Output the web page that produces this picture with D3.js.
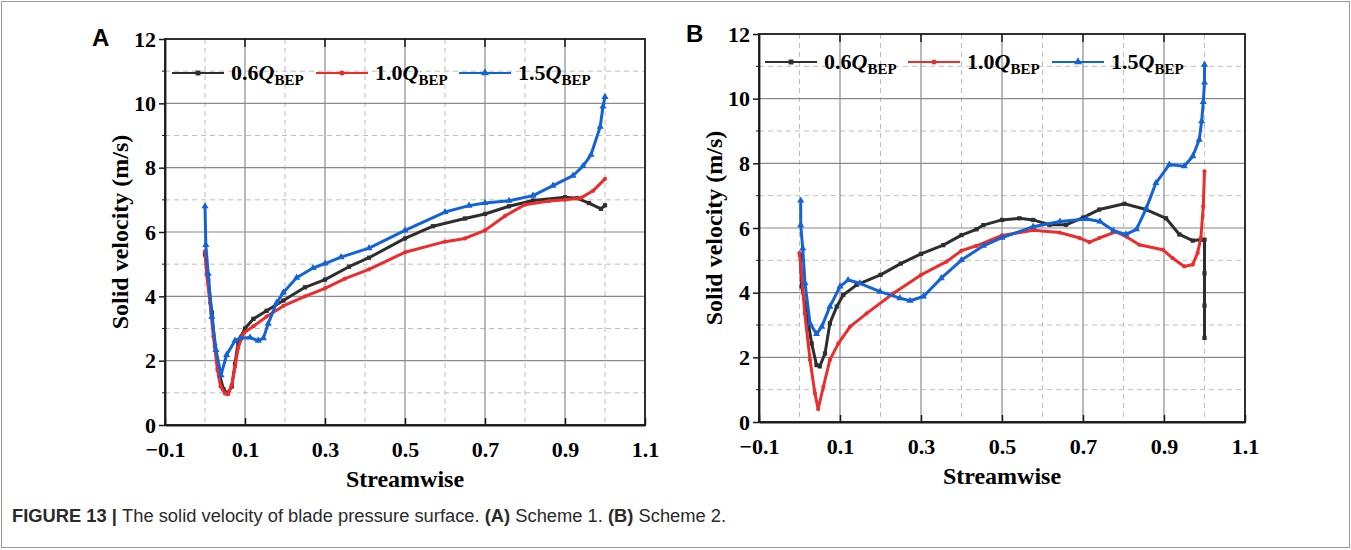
<!DOCTYPE html>
<html>
<head>
<meta charset="utf-8">
<script src="https://cdn.jsdelivr.net/npm/d3@7"></script>
<style>
  body { margin: 0; background: #fff; }
</style>
</head>
<body>
<script>
// tick values
const xTicks = [-0.1, 0.1, 0.3, 0.5, 0.7, 0.9, 1.1];
const xMinor = [0, 0.2, 0.4, 0.6, 0.8, 1.0];
const yTicks = [0, 2, 4, 6, 8, 10, 12];
const yMinor = [1, 3, 5, 7, 9, 11];
const flowLabels = ["0.6", "1.0", "1.5"];

// Scheme 1 (panel A) — [streamwise, solid velocity]
const schemeA_q06 = [[0,5.3],[0.008,4.5],[0.017,3.5],[0.025,2.45],[0.0375,1.5],[0.046,1.12],[0.056,0.98],[0.067,1.2],[0.075,1.9],[0.083,2.6],[0.1,3.0],[0.121,3.3],[0.154,3.55],[0.196,3.87],[0.25,4.28],[0.3,4.52],[0.36,4.92],[0.41,5.2],[0.5,5.8],[0.57,6.18],[0.65,6.42],[0.7,6.56],[0.76,6.8],[0.82,6.98],[0.9,7.08],[0.93,7.05],[0.96,6.9],[0.99,6.72],[1.0,6.83]];
const schemeA_q10 = [[0,5.4],[0.004,4.7],[0.0125,3.8],[0.021,2.75],[0.031,1.72],[0.039,1.2],[0.05,0.98],[0.058,0.96],[0.067,1.24],[0.075,1.8],[0.083,2.4],[0.096,2.85],[0.121,3.07],[0.154,3.37],[0.196,3.7],[0.25,4.0],[0.3,4.25],[0.35,4.55],[0.41,4.84],[0.5,5.37],[0.6,5.7],[0.65,5.8],[0.7,6.05],[0.75,6.5],[0.8,6.85],[0.86,6.96],[0.9,7.0],[0.94,7.06],[0.97,7.28],[1.0,7.65]];
const schemeA_q15 = [[0,6.8],[0.002,5.6],[0.008,4.7],[0.017,3.37],[0.0275,2.33],[0.04,1.55],[0.054,2.18],[0.075,2.62],[0.0875,2.7],[0.1125,2.72],[0.133,2.62],[0.146,2.7],[0.158,3.15],[0.179,3.8],[0.196,4.12],[0.229,4.58],[0.27,4.88],[0.3,5.02],[0.34,5.22],[0.41,5.5],[0.5,6.05],[0.6,6.62],[0.66,6.82],[0.7,6.9],[0.76,6.97],[0.82,7.13],[0.87,7.44],[0.92,7.75],[0.945,8.05],[0.965,8.4],[0.988,9.27],[0.995,9.9],[1.0,10.2]];

// Scheme 2 (panel B)
const schemeB_q06 = [[0.002,5.17],[0.005,4.2],[0.018,3.36],[0.03,2.43],[0.042,1.76],[0.05,1.72],[0.063,2.12],[0.075,3.05],[0.092,3.57],[0.108,3.93],[0.141,4.24],[0.2,4.55],[0.25,4.9],[0.3,5.2],[0.355,5.47],[0.4,5.78],[0.437,5.96],[0.454,6.09],[0.5,6.25],[0.543,6.3],[0.577,6.25],[0.617,6.1],[0.658,6.1],[0.7,6.32],[0.74,6.57],[0.802,6.75],[0.856,6.57],[0.905,6.3],[0.938,5.8],[0.971,5.61],[0.991,5.64],[1.0,5.64],[1.0,4.6],[1.0,3.6],[1.0,2.6]];
const schemeB_q10 = [[0.0,5.22],[0.005,4.6],[0.013,3.36],[0.026,1.92],[0.038,0.89],[0.046,0.4],[0.059,1.09],[0.075,1.92],[0.096,2.43],[0.125,2.95],[0.166,3.36],[0.232,3.98],[0.3,4.55],[0.363,4.96],[0.4,5.3],[0.437,5.45],[0.5,5.77],[0.577,5.93],[0.642,5.86],[0.692,5.69],[0.716,5.56],[0.74,5.69],[0.781,5.88],[0.806,5.74],[0.839,5.48],[0.897,5.33],[0.921,5.07],[0.95,4.81],[0.971,4.87],[0.983,5.23],[0.991,5.69],[0.997,6.67],[1.0,7.75]];
const schemeB_q15 = [[0.003,6.85],[0.003,6.09],[0.008,5.37],[0.0136,4.29],[0.026,3.05],[0.042,2.72],[0.055,2.95],[0.075,3.57],[0.1,4.19],[0.12,4.39],[0.149,4.29],[0.199,4.03],[0.248,3.83],[0.273,3.75],[0.306,3.88],[0.35,4.45],[0.4,5.01],[0.454,5.45],[0.5,5.7],[0.577,6.04],[0.643,6.2],[0.709,6.28],[0.742,6.2],[0.775,5.92],[0.806,5.8],[0.832,5.96],[0.856,6.6],[0.88,7.39],[0.913,7.96],[0.95,7.91],[0.971,8.22],[0.987,8.73],[0.993,9.3],[0.997,9.9],[1.0,10.5],[1.0,11.05]];

const colors = ["#2e2e2e", "#ec2d2d", "#1463d6"];
const shapes = [d3.symbolSquare, d3.symbolCircle, d3.symbolTriangle];
const shapeSize = [18, 14, 22];
const serif = "'Liberation Serif', 'Times New Roman', serif";
const sans = "'Liberation Sans', Arial, sans-serif";

const svg = d3.select("body").append("svg")
  .attr("width", 1351)
  .attr("height", 550);

// outer figure frame
svg.append("rect")
  .attr("x", 1.5).attr("y", 1.5)
  .attr("width", 1348).attr("height", 546)
  .attr("fill", "none")
  .attr("stroke", "#9a9a9a")
  .attr("stroke-width", 1);

function drawPanel(p) {
  const x = d3.scaleLinear().domain([-0.1, 1.1]).range([p.left, p.right]);
  const y = d3.scaleLinear().domain([0, 12]).range([p.bottom, p.top]);
  const g = svg.append("g");

  // dashed minor grid
  g.selectAll(".vmin").data(xMinor).enter().append("line")
    .attr("x1", d => x(d)).attr("x2", d => x(d))
    .attr("y1", p.top).attr("y2", p.bottom)
    .attr("stroke", "#c4bcbc").attr("stroke-dasharray", "5,4");
  g.selectAll(".hmin").data(yMinor).enter().append("line")
    .attr("x1", p.left).attr("x2", p.right)
    .attr("y1", d => y(d)).attr("y2", d => y(d))
    .attr("stroke", "#c4bcbc").attr("stroke-dasharray", "5,4");

  // solid major grid
  g.selectAll(".vmaj").data(xTicks.slice(1, -1)).enter().append("line")
    .attr("x1", d => x(d)).attr("x2", d => x(d))
    .attr("y1", p.top).attr("y2", p.bottom)
    .attr("stroke", "#8a8a8a").attr("stroke-width", 1.2);
  g.selectAll(".hmaj").data(yTicks.slice(1, -1)).enter().append("line")
    .attr("x1", p.left).attr("x2", p.right)
    .attr("y1", d => y(d)).attr("y2", d => y(d))
    .attr("stroke", "#8a8a8a").attr("stroke-width", 1.2);

  // frame
  g.append("rect")
    .attr("x", p.left).attr("y", p.top)
    .attr("width", p.right - p.left).attr("height", p.bottom - p.top)
    .attr("fill", "none").attr("stroke", "#1a1a1a").attr("stroke-width", 1.8);

  // top ticks (inward)
  g.selectAll(".tt").data(xTicks.slice(1, -1)).enter().append("line")
    .attr("x1", d => x(d)).attr("x2", d => x(d))
    .attr("y1", p.top).attr("y2", p.top + 8)
    .attr("stroke", "#1a1a1a").attr("stroke-width", 1.5);

  // axes
  const xAxis = d3.axisBottom(x).tickValues(xTicks).tickSizeInner(-7).tickSizeOuter(0)
    .tickFormat(d => d3.format(".1f")(d));
  const gx = g.append("g").attr("transform", `translate(0,${p.bottom})`).call(xAxis);
  gx.select(".domain").attr("stroke", "#1a1a1a").attr("stroke-width", 1.8);
  gx.selectAll(".tick line").attr("stroke", "#1a1a1a").attr("stroke-width", 1.5);
  gx.selectAll(".tick text")
    .attr("y", 16)
    .attr("font-family", serif).attr("font-weight", "bold").attr("font-size", 22)
    .attr("fill", "#000");

  const yAxis = d3.axisLeft(y).tickValues(yTicks).tickSizeInner(6).tickSizeOuter(0).tickPadding(3);
  const gy = g.append("g").attr("transform", `translate(${p.left},0)`).call(yAxis);
  gy.select(".domain").attr("stroke", "#1a1a1a").attr("stroke-width", 1.8);
  gy.selectAll(".tick line").attr("stroke", "#1a1a1a").attr("stroke-width", 1.5);
  gy.selectAll(".tick text")
    .attr("font-family", serif).attr("font-weight", "bold").attr("font-size", 22)
    .attr("fill", "#000");

  // minor ticks on left axis
  g.selectAll(".ymt").data(yMinor).enter().append("line")
    .attr("x1", p.left - 3).attr("x2", p.left)
    .attr("y1", d => y(d)).attr("y2", d => y(d))
    .attr("stroke", "#1a1a1a");

  // axis titles
  g.append("text")
    .attr("x", (p.left + p.right) / 2).attr("y", p.bottom + 62)
    .attr("text-anchor", "middle")
    .attr("font-family", serif).attr("font-weight", "bold").attr("font-size", 24)
    .text("Streamwise");
  g.append("text")
    .attr("transform", `translate(${p.left - 37},${(p.top + p.bottom) / 2}) rotate(-90)`)
    .attr("text-anchor", "middle")
    .attr("font-family", serif).attr("font-weight", "bold").attr("font-size", 24)
    .text("Solid velocity (m/s)");

  // panel letter
  g.append("text")
    .attr("x", p.letterX).attr("y", p.letterY)
    .attr("font-family", sans).attr("font-weight", "bold").attr("font-size", 24)
    .text(p.letter);

  // curves
  const line = d3.line().x(d => x(d[0])).y(d => y(d[1]));
  p.series.forEach((s, i) => {
    g.append("path")
      .datum(s)
      .attr("fill", "none")
      .attr("stroke", colors[i])
      .attr("stroke-width", 3)
      .attr("stroke-linejoin", "round")
      .attr("d", line);
    g.selectAll(".m" + i).data(s).enter().append("path")
      .attr("transform", d => `translate(${x(d[0])},${y(d[1])})`)
      .attr("d", d3.symbol().type(shapes[i]).size(shapeSize[i]))
      .attr("fill", colors[i]);
  });

  // legend
  const leg = g.selectAll(".legend").data(flowLabels).enter().append("g")
    .attr("transform", (d, i) => `translate(${p.legendX[i]},${p.legendY})`);
  leg.append("line")
    .attr("x1", 0).attr("x2", 52).attr("y1", 0).attr("y2", 0)
    .attr("stroke", (d, i) => colors[i]).attr("stroke-width", 2);
  leg.append("path")
    .attr("transform", "translate(26,0)")
    .attr("d", (d, i) => d3.symbol().type(shapes[i]).size(shapeSize[i] + 6)())
    .attr("fill", (d, i) => colors[i]);
  const lt = leg.append("text")
    .attr("x", 59).attr("y", 7)
    .attr("font-family", serif).attr("font-weight", "bold").attr("font-size", 22);
  lt.append("tspan").text(d => d);
  lt.append("tspan").attr("font-style", "italic").text("Q");
  lt.append("tspan").attr("font-size", 15).attr("dy", 5).text("BEP");
}

drawPanel({
  left: 165, right: 645, top: 39, bottom: 425,
  letter: "A", letterX: 92, letterY: 46,
  legendX: [172, 316, 459], legendY: 73,
  series: [schemeA_q06, schemeA_q10, schemeA_q15]
});

drawPanel({
  left: 759, right: 1245, top: 34, bottom: 422,
  letter: "B", letterX: 686, letterY: 42,
  legendX: [765, 908, 1052], legendY: 62,
  series: [schemeB_q06, schemeB_q10, schemeB_q15]
});

// caption, stretched to the reference width
const cap = svg.append("text")
  .attr("x", 12).attr("y", 522)
  .attr("font-family", sans).attr("font-size", 19)
  .attr("fill", "#2a2a2a");
cap.append("tspan").attr("font-weight", "bold").text("FIGURE 13 | ");
cap.append("tspan").text("The solid velocity of blade pressure surface. ");
cap.append("tspan").attr("font-weight", "bold").text("(A)");
cap.append("tspan").text(" Scheme 1. ");
cap.append("tspan").attr("font-weight", "bold").text("(B)");
cap.append("tspan").text(" Scheme 2.");
const capW = cap.node().getComputedTextLength();
cap.attr("transform", `translate(12,0) scale(${715 / capW},1) translate(-12,0)`);
</script>
</body>
</html>
